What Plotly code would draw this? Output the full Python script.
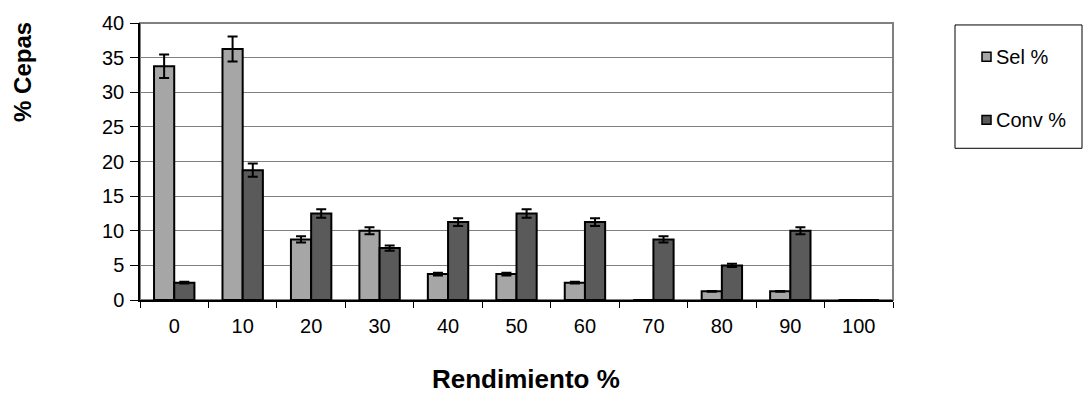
import plotly.graph_objects as go

# Yield classes (x categories)
categorias = ["0", "10", "20", "30", "40", "50", "60", "70", "80", "90", "100"]

# Percentage of strains per yield class
sel_pct = [33.75, 36.25, 8.75, 10.0, 3.75, 3.75, 2.5, 0.0, 1.25, 1.25, 0.0]
conv_pct = [2.5, 18.75, 12.5, 7.5, 11.25, 12.5, 11.25, 8.75, 5.0, 10.0, 0.0]

# Error bar half-widths
sel_err = [1.7, 1.8, 0.45, 0.5, 0.2, 0.2, 0.12, 0.0, 0.06, 0.06, 0.0]
conv_err = [0.12, 0.95, 0.62, 0.38, 0.56, 0.62, 0.56, 0.44, 0.25, 0.5, 0.0]

y_ticks = [0, 5, 10, 15, 20, 25, 30, 35, 40]

SEL_COLOR = "#a6a6a6"
CONV_COLOR = "#5a5a5a"
FONT = "Liberation Sans, Arial, sans-serif"

fig = go.Figure()

for name, vals, errs, color in [
    ("Sel %", sel_pct, sel_err, SEL_COLOR),
    ("Conv %", conv_pct, conv_err, CONV_COLOR),
]:
    fig.add_trace(go.Bar(
        x=categorias, y=vals, name=name,
        marker=dict(color=color, line=dict(color="black", width=2)),
        error_y=dict(type="data", array=errs, visible=True,
                     color="black", thickness=2, width=5),
        showlegend=False,
    ))

L, R, T, B = 140, 195, 17, 98
W, H = 1088, 398
pw, ph = W - L - R, H - T - B

def px(x):
    return (x - L) / pw

def py(y):
    return (H - B - y) / ph

shapes = [
    # plot area frame
    dict(type="rect", xref="paper", yref="paper", x0=0, x1=1, y0=0, y1=1,
         line=dict(color="#808080", width=2), layer="below"),
    # legend frame
    dict(type="rect", xref="paper", yref="paper",
         x0=px(955), x1=px(1082), y0=py(145), y1=py(19),
         line=dict(color="black", width=1), fillcolor="white"),
]
annotations = []
for name, color, cy in [("Sel %", SEL_COLOR, 51.5), ("Conv %", CONV_COLOR, 116)]:
    shapes.append(dict(type="rect", xref="paper", yref="paper",
                       x0=px(982), x1=px(991), y0=py(cy + 4.5), y1=py(cy - 4.5),
                       fillcolor=color, line=dict(color="black", width=1.5)))
    annotations.append(dict(text=name, xref="paper", yref="paper",
                            x=px(994), y=py(cy), xanchor="left", yanchor="middle",
                            showarrow=False, font=dict(size=20, color="black", family=FONT)))

annotations.append(dict(text="<b>% Cepas</b>", xref="paper", yref="paper",
                        x=px(23), y=py(67), textangle=-90, showarrow=False,
                        xanchor="center", yanchor="middle",
                        font=dict(size=24, color="black", family=FONT)))
annotations.append(dict(text="<b>Rendimiento %</b>", xref="paper", yref="paper",
                        x=px(526), y=py(397), showarrow=False,
                        xanchor="center", yanchor="bottom", borderpad=0,
                        font=dict(size=26, color="black", family=FONT)))

fig.update_layout(
    width=W, height=H,
    margin=dict(l=L, r=R, t=T, b=B, pad=0),
    paper_bgcolor="white", plot_bgcolor="white",
    barmode="group", bargap=0.41, bargroupgap=0,
    font=dict(family=FONT, size=20, color="black"),
    shapes=shapes, annotations=annotations,
    xaxis=dict(type="category", tickson="boundaries", ticks="outside", ticklen=6,
               tickcolor="black", tickwidth=1, showline=True, linecolor="black",
               linewidth=1.5, showgrid=False, tickfont=dict(size=20),
               ticklabelstandoff=7),
    yaxis=dict(range=[0, 40], tickvals=y_ticks, ticks="outside", ticklen=8,
               tickcolor="black", tickwidth=1, showline=True, linecolor="black",
               linewidth=1.5, showgrid=True, gridcolor="#808080", gridwidth=1,
               zeroline=False, tickfont=dict(size=20), ticklabelstandoff=2),
)

fig.write_html("out.html")
